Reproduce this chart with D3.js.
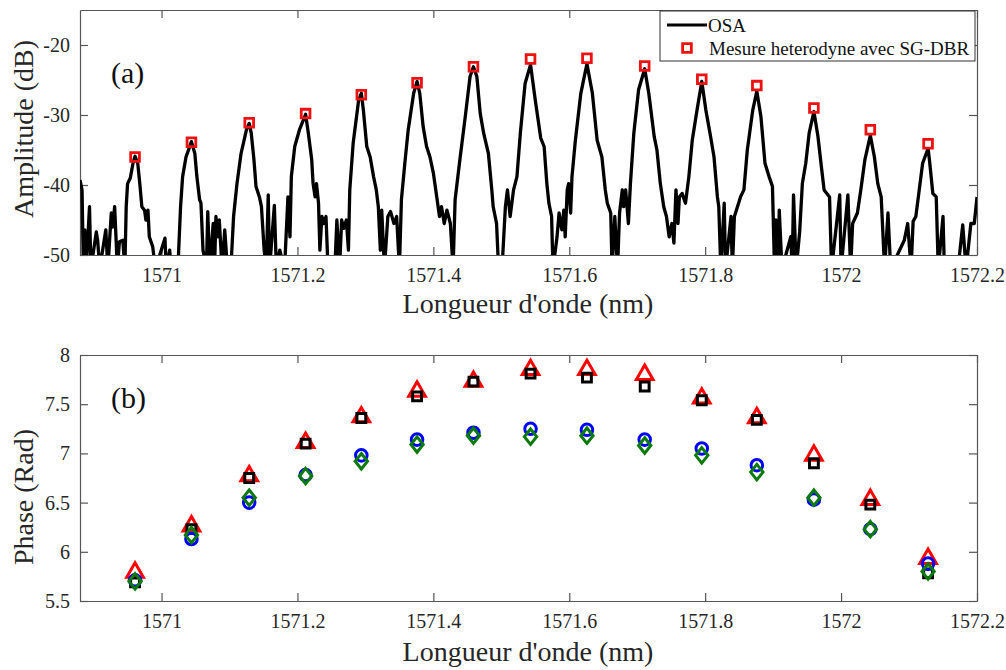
<!DOCTYPE html>
<html>
<head>
<meta charset="utf-8">
<script src="https://cdn.jsdelivr.net/npm/d3@7"></script>
<style>
html,body{margin:0;padding:0;background:#fff;}
svg{display:block;font-family:"Liberation Serif","Times New Roman",serif;}
</style>
</head>
<body>
<svg id="chart" width="1006" height="670"></svg>
<script>
// ---------- DATA ----------
const xTickValues = [1571, 1571.2, 1571.4, 1571.6, 1571.8, 1572, 1572.2];
const xTickLabels = ["1571", "1571.2", "1571.4", "1571.6", "1571.8", "1572", "1572.2"];
const ampTickValues = [-50, -40, -30, -20];
const ampTickLabels = ["-50", "-40", "-30", "-20"];
const phaseTickValues = [5.5, 6, 6.5, 7, 7.5, 8];
const phaseTickLabels = ["5.5", "6", "6.5", "7", "7.5", "8"];

// comb line wavelengths (nm)
const peakWl = [1570.961, 1571.044, 1571.129, 1571.212, 1571.294, 1571.376, 1571.459, 1571.543,
                1571.626, 1571.711, 1571.795, 1571.876, 1571.960, 1572.043, 1572.128];
// heterodyne measurement with SG-DBR (dB)
const heteroDb = [-36.0, -33.9, -31.1, -29.8, -27.1, -25.4, -23.1, -22.0, -21.9, -23.0, -24.9, -25.8, -29.0, -32.1, -34.1];

// OSA trace (nm, dB)
const osaWl = [
1570.880,1570.883,1570.885,1570.887,1570.889,1570.894,1570.896,1570.904,1570.906,1570.909,
1570.918,1570.921,1570.926,1570.928,1570.931,1570.935,1570.938,1570.943,1570.946,1570.948,
1570.950,1570.954,1570.958,1570.961,1570.965,1570.968,1570.971,1570.975,1570.977,1570.980,
1570.982,1570.987,1570.991,1571.005,1571.007,1571.012,1571.014,1571.024,1571.028,1571.031,
1571.036,1571.044,1571.049,1571.052,1571.056,1571.058,1571.061,1571.066,1571.068,1571.071,
1571.076,1571.078,1571.080,1571.083,1571.085,1571.089,1571.093,1571.097,1571.102,1571.106,
1571.111,1571.117,1571.125,1571.129,1571.132,1571.136,1571.139,1571.144,1571.147,1571.151,
1571.154,1571.157,1571.159,1571.166,1571.169,1571.174,1571.181,1571.186,1571.189,1571.191,
1571.196,1571.203,1571.212,1571.216,1571.221,1571.223,1571.226,1571.228,1571.231,1571.233,
1571.236,1571.239,1571.242,1571.245,1571.255,1571.258,1571.262,1571.265,1571.268,1571.272,
1571.275,1571.277,1571.282,1571.290,1571.294,1571.297,1571.302,1571.307,1571.312,1571.316,
1571.319,1571.322,1571.324,1571.328,1571.333,1571.337,1571.342,1571.346,1571.350,1571.353,
1571.358,1571.363,1571.371,1571.376,1571.380,1571.385,1571.390,1571.395,1571.400,1571.405,
1571.409,1571.412,1571.416,1571.420,1571.425,1571.429,1571.432,1571.439,1571.447,1571.454,
1571.459,1571.464,1571.469,1571.474,1571.481,1571.486,1571.488,1571.493,1571.496,1571.501,
1571.506,1571.509,1571.513,1571.518,1571.523,1571.528,1571.535,1571.543,1571.550,1571.558,
1571.563,1571.567,1571.570,1571.574,1571.576,1571.582,1571.585,1571.589,1571.592,1571.594,
1571.597,1571.599,1571.602,1571.604,1571.609,1571.617,1571.626,1571.634,1571.641,1571.648,
1571.653,1571.656,1571.661,1571.663,1571.667,1571.671,1571.674,1571.678,1571.680,1571.683,
1571.687,1571.690,1571.695,1571.702,1571.711,1571.717,1571.725,1571.729,1571.734,1571.739,
1571.743,1571.747,1571.751,1571.754,1571.757,1571.760,1571.762,1571.766,1571.771,1571.776,
1571.781,1571.788,1571.795,1571.801,1571.808,1571.813,1571.818,1571.820,1571.823,1571.828,
1571.830,1571.838,1571.840,1571.843,1571.852,1571.857,1571.862,1571.870,1571.876,1571.882,
1571.888,1571.894,1571.899,1571.902,1571.904,1571.907,1571.909,1571.913,1571.926,1571.928,
1571.930,1571.934,1571.939,1571.943,1571.948,1571.953,1571.960,1571.966,1571.971,1571.975,
1571.983,1571.986,1571.998,1572.000,1572.010,1572.014,1572.017,1572.024,1572.029,1572.035,
1572.043,1572.049,1572.054,1572.059,1572.064,1572.069,1572.073,1572.093,1572.098,1572.103,
1572.106,1572.110,1572.115,1572.120,1572.128,1572.130,1572.135,1572.140,1572.143,1572.150,
1572.152,1572.172,1572.179,1572.184,1572.191,1572.196,1572.200];
const osaDb = [
-39.3,-40.7,-52,-46.4,-52,-43.1,-52,-46.7,-47.9,-52,
-46.4,-52,-44.0,-46.0,-43.1,-52,-48.1,-47.9,-52,-43.1,
-39.8,-39.0,-36.9,-35.9,-36.9,-39.8,-43.1,-43.6,-45.0,-43.6,
-47.4,-48.8,-52,-47.6,-52,-49.3,-52,-52,-43.1,-38.8,
-36.0,-33.8,-35.5,-38.8,-42.1,-42.6,-49.3,-52,-43.8,-52,
-45.5,-52,-44.5,-47.4,-45.0,-52,-46.4,-52,-52,-44.5,
-39.8,-35.5,-32.1,-31.2,-32.6,-36.4,-40.2,-41.7,-43.1,-49.3,
-52,-41.4,-52,-42.9,-52,-49.3,-52,-41.7,-47.4,-38.8,
-34.5,-32.1,-29.9,-32.6,-36.4,-39.8,-41.7,-39.8,-42.6,-49.3,
-44.5,-45.5,-44.5,-52,-52,-45.0,-52,-45.0,-46.2,-45.0,
-49.3,-40.7,-34.0,-27.9,-26.9,-29.3,-34.5,-36.0,-38.8,-40.7,
-43.1,-49.3,-43.6,-52,-44.5,-43.8,-45.5,-44.5,-52,-42.1,
-36.9,-32.1,-26.9,-25.2,-26.9,-31.7,-34.5,-36.0,-38.3,-41.7,
-44.5,-43.1,-45.5,-43.6,-45.5,-52,-42.1,-36.4,-30.2,-24.5,
-23.1,-24.5,-29.8,-32.6,-35.5,-40.7,-43.1,-45.5,-52,-52,
-43.1,-40.7,-44.5,-40.7,-38.8,-32.6,-25.5,-22.8,-27.9,-33.3,
-34.5,-39.8,-42.6,-44.5,-52,-47.4,-44.0,-46.4,-43.6,-47.4,
-40.7,-39.8,-44.0,-38.8,-33.6,-26.9,-22.7,-26.9,-33.6,-36.0,
-40.7,-42.6,-44.0,-52,-44.5,-52,-44.0,-40.7,-43.1,-40.7,
-45.5,-39.8,-32.6,-26.4,-23.4,-26.9,-33.1,-35.0,-39.8,-43.1,
-44.5,-47.4,-45.5,-48.3,-40.7,-45.5,-41.7,-41.2,-42.6,-38.8,
-33.6,-29.3,-25.2,-29.3,-33.1,-36.0,-41.7,-43.1,-52,-42.6,
-52,-44.5,-52,-44.5,-41.7,-40.7,-35.0,-29.3,-26.6,-30.2,
-36.9,-38.8,-40.2,-52,-45.0,-52,-43.6,-52,-47.4,-52,
-41.4,-52,-46.7,-39.8,-36.9,-32.6,-29.5,-33.1,-37.4,-40.7,
-41.7,-52,-41.4,-52,-41.4,-52,-45.5,-44.0,-40.7,-36.4,
-32.9,-36.0,-39.8,-41.7,-52,-44.0,-52,-47.9,-45.5,-52,
-45.2,-44.5,-40.7,-36.9,-34.8,-36.4,-41.2,-41.7,-52,-44.5,
-52,-52,-45.7,-52,-45.5,-45.5,-41.7];

// phase series (rad)
const phaseRedTri   = [5.79, 6.26, 6.77, 7.11, 7.37, 7.63, 7.73, 7.85, 7.85, 7.80, 7.56, 7.36, 6.98, 6.53, 5.93];
const phaseBlackSq  = [5.69, 6.23, 6.75, 7.10, 7.36, 7.58, 7.73, 7.81, 7.77, 7.68, 7.54, 7.34, 6.90, 6.48, 5.78];
const phaseBlueCirc = [5.71, 6.13, 6.50, 6.78, 6.98, 7.14, 7.21, 7.25, 7.24, 7.14, 7.05, 6.88, 6.53, 6.23, 5.88];
const phaseGreenDia = [5.70, 6.17, 6.55, 6.77, 6.92, 7.09, 7.18, 7.17, 7.18, 7.08, 6.98, 6.81, 6.55, 6.23, 5.80];

const legendLabels = ["OSA", "Mesure heterodyne avec SG-DBR"];

// ---------- LAYOUT ----------
const svg = d3.select("#chart");
const L = 80, R = 977;
const top1 = 10, bot1 = 255;
const top2 = 355, bot2 = 601;
const axisColor = "#555";
const textColor = "#262626";
const serif = "'Liberation Serif','Times New Roman',serif";

const x = d3.scaleLinear().domain([1570.88, 1572.2]).range([L, R]);
const yA = d3.scaleLinear().domain([-50, -15]).range([bot1, top1]);
const yP = d3.scaleLinear().domain([5.5, 8]).range([bot2, top2]);

const diamond = {
  draw(ctx, size) {
    const h = Math.sqrt(size) * 0.95, w = h * 0.8;
    ctx.moveTo(0, -h); ctx.lineTo(w, 0); ctx.lineTo(0, h); ctx.lineTo(-w, 0); ctx.closePath();
  }
};

function fmt(vals, labels) { return d => labels[vals.indexOf(d)]; }

function drawAxes(yScale, top, bot, yVals, yLabels, clipId) {
  svg.append("rect").attr("x", L).attr("y", top).attr("width", R - L).attr("height", bot - top).attr("fill", "#fff");
  svg.append("clipPath").attr("id", clipId).append("rect")
    .attr("x", L).attr("y", top).attr("width", R - L).attr("height", bot - top);

  const gb = svg.append("g").attr("transform", `translate(0,${bot})`)
    .call(d3.axisBottom(x).tickValues(xTickValues).tickFormat(fmt(xTickValues, xTickLabels))
      .tickSizeInner(-8).tickSizeOuter(0).tickPadding(13));
  const gt = svg.append("g").attr("transform", `translate(0,${top})`)
    .call(d3.axisTop(x).tickValues(xTickValues).tickFormat("").tickSizeInner(-8).tickSizeOuter(0));
  const gl = svg.append("g").attr("transform", `translate(${L},0)`)
    .call(d3.axisLeft(yScale).tickValues(yVals).tickFormat(fmt(yVals, yLabels))
      .tickSizeInner(-8).tickSizeOuter(0).tickPadding(10));
  const gr = svg.append("g").attr("transform", `translate(${R},0)`)
    .call(d3.axisRight(yScale).tickValues(yVals).tickFormat("").tickSizeInner(-8).tickSizeOuter(0));
  [gb, gt, gl, gr].forEach(g => {
    g.attr("font-family", serif).attr("font-size", 20);
    g.selectAll("path.domain").attr("stroke", axisColor).attr("stroke-width", 1.2);
    g.selectAll(".tick line").attr("stroke", axisColor).attr("stroke-width", 1.2);
    g.selectAll("text").attr("fill", textColor).attr("font-size", 20).attr("font-family", serif);
  });
}

// ---------- PANEL (a) ----------
drawAxes(yA, top1, bot1, ampTickValues, ampTickLabels, "clipA");
const gA = svg.append("g").attr("clip-path", "url(#clipA)");
const osaPts = osaWl.map((w, i) => [w, osaDb[i]]);
gA.append("path").datum(osaPts)
  .attr("d", d3.line().x(d => x(d[0])).y(d => yA(d[1])))
  .attr("fill", "none").attr("stroke", "#000").attr("stroke-width", 3.3).attr("stroke-linejoin", "round");

const sqA = d3.symbol().type(d3.symbolSquare).size(76);
svg.append("g").selectAll("path").data(peakWl).join("path")
  .attr("transform", (d, i) => `translate(${x(d)},${yA(heteroDb[i])})`)
  .attr("d", sqA).attr("fill", "none").attr("stroke", "#ee1111").attr("stroke-width", 2.8);

// legend
const lg = svg.append("g");
lg.append("rect").attr("x", 660).attr("y", 11).attr("width", 315).attr("height", 50)
  .attr("fill", "#fff").attr("stroke", "#333").attr("stroke-width", 1);
lg.append("line").attr("x1", 667).attr("x2", 707).attr("y1", 25).attr("y2", 25)
  .attr("stroke", "#000").attr("stroke-width", 3);
lg.append("text").attr("x", 708).attr("y", 32).attr("font-size", 19).attr("fill", "#111").text(legendLabels[0]);
lg.append("path").attr("transform", "translate(687,48)").attr("d", sqA)
  .attr("fill", "none").attr("stroke", "#ee1111").attr("stroke-width", 2.8);
lg.append("text").attr("x", 709).attr("y", 55).attr("font-size", 19).attr("fill", "#111").text(legendLabels[1]);

svg.append("text").attr("x", 111).attr("y", 83).attr("font-size", 30).attr("fill", "#111").text("(a)");

// ---------- PANEL (b) ----------
drawAxes(yP, top2, bot2, phaseTickValues, phaseTickLabels, "clipP");
const gP = svg.append("g");
const series = [
  { vals: phaseRedTri, type: d3.symbolTriangle, size: 120, color: "#ff0000" },
  { vals: phaseBlackSq, type: d3.symbolSquare, size: 78, color: "#000000" },
  { vals: phaseBlueCirc, type: d3.symbolCircle, size: 105, color: "#0000ff" },
  { vals: phaseGreenDia, type: diamond, size: 66, color: "#0b7a0b" }
];
series.forEach(s => {
  const sym = d3.symbol().type(s.type).size(s.size);
  gP.append("g").selectAll("path").data(peakWl).join("path")
    .attr("transform", (d, i) => `translate(${x(d)},${yP(s.vals[i])})`)
    .attr("d", sym).attr("fill", "none").attr("stroke", s.color).attr("stroke-width", 3);
});
svg.append("text").attr("x", 111).attr("y", 408).attr("font-size", 30).attr("fill", "#111").text("(b)");

// ---------- AXIS TITLES ----------
svg.append("text").attr("x", 528).attr("y", 313).attr("text-anchor", "middle")
  .attr("font-size", 28).attr("fill", textColor).text("Longueur d'onde (nm)");
svg.append("text").attr("x", 528).attr("y", 661).attr("text-anchor", "middle")
  .attr("font-size", 28).attr("fill", textColor).text("Longueur d'onde (nm)");
svg.append("text").attr("transform", "translate(33,129) rotate(-90)").attr("text-anchor", "middle")
  .attr("font-size", 28).attr("fill", textColor).text("Amplitude (dB)");
svg.append("text").attr("transform", "translate(33,497) rotate(-90)").attr("text-anchor", "middle")
  .attr("font-size", 28).attr("fill", textColor).text("Phase (Rad)");
</script>
</body>
</html>
